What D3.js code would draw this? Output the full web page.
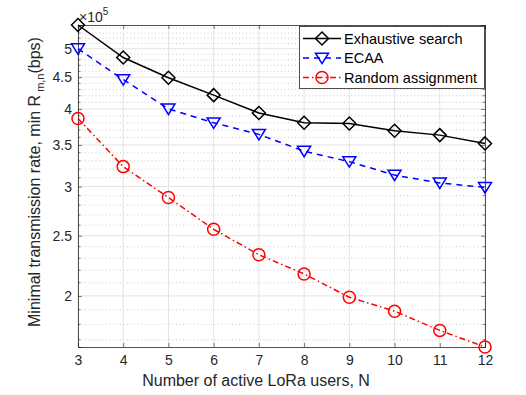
<!DOCTYPE html>
<html>
<head>
<meta charset="utf-8">
<script src="https://cdn.jsdelivr.net/npm/d3@7"></script>
<style>
  body { margin: 0; background: #fff; }
  svg { font-family: "Liberation Sans", Arial, sans-serif; }
</style>
</head>
<body>
<svg id="chart" width="526" height="395"></svg>
<script>
// data (rate in units of 1e5 bps)
var users = [3, 4, 5, 6, 7, 8, 9, 10, 11, 12];
var exhaustive = [5.46, 4.84, 4.49, 4.21, 3.94, 3.80, 3.79, 3.69, 3.63, 3.52];
var ecaa = [5.00, 4.46, 4.00, 3.80, 3.64, 3.42, 3.29, 3.13, 3.04, 2.99];
var randomAssign = [3.86, 3.23, 2.88, 2.56, 2.33, 2.17, 1.99, 1.89, 1.76, 1.655];
var yTicks = [2, 2.5, 3, 3.5, 4, 4.5, 5];
var seriesNames = ["Exhaustive search", "ECAA", "Random assignment"];

var svg = d3.select("#chart");
var pLeft = 78, pRight = 485, pTop = 25, pBottom = 347;

var all = exhaustive.concat(ecaa, randomAssign);
var x = d3.scaleLinear().domain([3, 12]).range([pLeft, pRight]);
var y = d3.scaleLog().domain([d3.min(all), d3.max(all)]).range([pBottom, pTop]);

// minor grid every 0.1
var minor = d3.range(16, 55).map(function(d){ return d / 10; })
  .filter(function(d){ return d >= y.domain()[0] && d <= y.domain()[1] && yTicks.indexOf(d) < 0; });
svg.append("g").selectAll("line").data(minor).enter().append("line")
  .attr("x1", pLeft).attr("x2", pRight)
  .attr("y1", function(d){ return y(d); }).attr("y2", function(d){ return y(d); })
  .attr("stroke", "#c0c0c0").attr("stroke-width", 0.8).attr("stroke-dasharray", "1,2.5");

// major grid
svg.append("g").selectAll("line").data(yTicks).enter().append("line")
  .attr("x1", pLeft).attr("x2", pRight)
  .attr("y1", function(d){ return y(d); }).attr("y2", function(d){ return y(d); })
  .attr("stroke", "#e3e3e3").attr("stroke-width", 1);
svg.append("g").selectAll("line").data(users).enter().append("line")
  .attr("y1", pTop).attr("y2", pBottom)
  .attr("x1", function(d){ return x(d); }).attr("x2", function(d){ return x(d); })
  .attr("stroke", "#e3e3e3").attr("stroke-width", 1);

// axes
var axisColor = "#262626";
var xAxis = svg.append("g").attr("transform", "translate(0," + pBottom + ")")
  .call(d3.axisBottom(x).tickValues(users).tickSize(-4).tickPadding(8).tickFormat(d3.format("d")));
var xTop = svg.append("g").attr("transform", "translate(0," + pTop + ")")
  .call(d3.axisTop(x).tickValues(users).tickSize(-4).tickFormat(""));
var yAxis = svg.append("g").attr("transform", "translate(" + pLeft + ",0)")
  .call(d3.axisLeft(y).tickValues(yTicks).tickSize(-4).tickPadding(6).tickFormat(d3.format("")));
var yRight = svg.append("g").attr("transform", "translate(" + pRight + ",0)")
  .call(d3.axisRight(y).tickValues(yTicks).tickSize(-4).tickFormat(""));
// minor ticks on y
svg.append("g").selectAll("line").data(minor).enter().append("line")
  .attr("x1", pLeft).attr("x2", pLeft + 2.5)
  .attr("y1", function(d){ return y(d); }).attr("y2", function(d){ return y(d); })
  .attr("stroke", axisColor).attr("stroke-width", 0.6);
svg.append("g").selectAll("line").data(minor).enter().append("line")
  .attr("x1", pRight).attr("x2", pRight - 2.5)
  .attr("y1", function(d){ return y(d); }).attr("y2", function(d){ return y(d); })
  .attr("stroke", axisColor).attr("stroke-width", 0.6);

[xAxis, xTop, yAxis, yRight].forEach(function(a){
  a.attr("font-family", null).attr("font-size", null);
  a.select(".domain").attr("stroke", axisColor).attr("stroke-width", 0.8);
  a.selectAll(".tick line").attr("stroke", axisColor).attr("stroke-width", 0.6);
  a.selectAll("text").attr("fill", "#262626").style("font-size", "14px");
});

// exponent
var expo = svg.append("text").attr("x", 79).attr("y", 22).attr("fill", "#262626").style("font-size", "14px");
expo.append("tspan").text("×10");
expo.append("tspan").attr("dy", -7).style("font-size", "10px").text("5");

// axis labels
svg.append("text").attr("x", 256).attr("y", 386)
  .attr("text-anchor", "middle").attr("fill", "#262626").style("font-size", "16px")
  .text("Number of active LoRa users, N");
var yl = svg.append("text").attr("transform", "translate(40,182) rotate(-90)")
  .attr("text-anchor", "middle").attr("fill", "#262626").style("font-size", "16px");
yl.append("tspan").text("Minimal transmission rate, min R");
yl.append("tspan").attr("dy", 4).style("font-size", "11px").text(" m,n");
yl.append("tspan").attr("dy", -4).text("(bps)");

// series
var line = d3.line().x(function(d, i){ return x(users[i]); }).y(function(d){ return y(d); });

function diamond(g, cx, cy, color) {
  var r = 6.5;
  g.append("path").attr("d", "M" + cx + "," + (cy - r) + "L" + (cx + r) + "," + cy + "L" + cx + "," + (cy + r) + "L" + (cx - r) + "," + cy + "Z")
    .attr("fill", "none").attr("stroke", color).attr("stroke-width", 1.5);
}
function tri(g, cx, cy, color) {
  var r = 6.5;
  g.append("path").attr("d", "M" + (cx - r) + "," + (cy - r * 0.75) + "L" + (cx + r) + "," + (cy - r * 0.75) + "L" + cx + "," + (cy + r * 0.85) + "Z")
    .attr("fill", "none").attr("stroke", color).attr("stroke-width", 1.5);
}
function circ(g, cx, cy, color) {
  g.append("circle").attr("cx", cx).attr("cy", cy).attr("r", 6)
    .attr("fill", "none").attr("stroke", color).attr("stroke-width", 1.5);
}

var series = [
  { name: seriesNames[0], values: exhaustive, color: "#000000", dash: null, marker: diamond },
  { name: seriesNames[1], values: ecaa, color: "#0000ff", dash: "6,5", marker: tri },
  { name: seriesNames[2], values: randomAssign, color: "#ff0000", dash: "6,3,1.5,3", marker: circ }
];

series.forEach(function(s){
  var g = svg.append("g");
  g.append("path").datum(s.values).attr("d", line)
    .attr("fill", "none").attr("stroke", s.color).attr("stroke-width", 1.5)
    .attr("stroke-dasharray", s.dash);
  s.values.forEach(function(v, i){ s.marker(g, x(users[i]), y(v), s.color); });
});

// legend
var lg = svg.append("g");
lg.append("rect").attr("x", 299.5).attr("y", 26.5).attr("width", 185).attr("height", 62)
  .attr("fill", "#fff").attr("stroke", "#262626").attr("stroke-width", 0.8);
series.forEach(function(s, i){
  var ly = 38.5 + i * 19.5;
  lg.append("line").attr("x1", 303).attr("x2", 341).attr("y1", ly).attr("y2", ly)
    .attr("stroke", s.color).attr("stroke-width", 1.5).attr("stroke-dasharray", s.dash);
  s.marker(lg, 322, ly, s.color);
  lg.append("text").attr("x", 344).attr("y", ly + 5).attr("fill", "#000")
    .style("font-size", "14.5px").text(s.name);
});
</script>
</body>
</html>
